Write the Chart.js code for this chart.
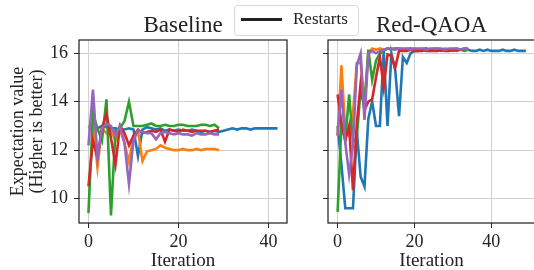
<!DOCTYPE html>
<html>
<head>
<meta charset="utf-8">
<script src="https://cdn.jsdelivr.net/npm/chart.js@4"></script>
<style>
  html, body { margin: 0; padding: 0; background: #fff; overflow: hidden; }
  body { width: 534px; height: 270px; position: relative; }
  #left { position: absolute; left: 0; top: 0; }
  #right { position: absolute; left: 300px; top: 0; }
  #legend {
    position: absolute; left: 234px; top: 5px; width: 125px; height: 31px;
    border: 1px solid #d9d9d9; border-radius: 4px; background: rgba(255,255,255,0.85);
    font-family: 'Liberation Serif', serif; font-size: 17px; color: #222; box-sizing: border-box;
  }
  #legend .swatch { position: absolute; left: 6px; top: 12px; width: 41px; height: 3px; background: #222; }
  #legend .label { position: absolute; left: 58px; top: 3px; line-height: 20px; }
</style>
</head>
<body>
<canvas id="left" width="300" height="270"></canvas>
<canvas id="right" width="245" height="270"></canvas>
<div id="legend"><div class="swatch"></div><div class="label">Restarts</div></div>
<script>
const titles = ['Baseline', 'Red-QAOA'];
const xTicks = [0, 20, 40];
const yTicks = [10, 12, 14, 16];
const colors = ['#1f77b4', '#ff7f0e', '#2ca02c', '#d62728', '#9467bd'];

// Baseline restarts
const baseBlue = [13.0, 12.95, 12.9, 13.0, 12.95, 12.9, 12.9, 12.85, 12.85, 12.9, 12.85, 11.75, 12.85, 12.95, 12.9, 12.85, 12.9, 12.8, 12.85, 12.8, 12.85, 12.8, 12.8, 12.85, 12.8, 12.75, 12.8, 12.75, 12.8, 12.75, 12.8, 12.85, 12.9, 12.85, 12.9, 12.9, 12.85, 12.9, 12.9, 12.9, 12.9, 12.9, 12.9];
const baseOrange = [12.9, 13.1, 11.3, 12.9, 12.7, 12.8, 12.4, 12.9, 12.3, 11.5, 12.6, 12.8, 11.55, 11.95, 12.0, 12.05, 12.2, 12.1, 12.05, 12.0, 12.0, 12.05, 12.0, 12.0, 12.05, 12.0, 12.05, 12.05, 12.05, 12.0];
const baseGreen = [9.4, 13.5, 12.9, 12.4, 14.1, 9.3, 12.8, 12.9, 13.2, 14.0, 13.0, 13.0, 13.0, 13.05, 13.1, 13.0, 13.0, 13.05, 13.0, 13.0, 13.05, 13.05, 13.0, 13.0, 13.0, 13.05, 13.05, 13.0, 13.05, 12.9];
const baseRed = [10.5, 12.4, 11.7, 12.9, 13.5, 12.5, 11.4, 13.0, 12.7, 12.2, 12.6, 12.85, 12.7, 12.75, 12.8, 12.75, 12.85, 12.35, 12.85, 12.8, 12.75, 12.85, 12.8, 12.75, 12.8, 12.8, 12.8, 12.75, 12.8, 12.85];
const basePurple = [12.2, 14.5, 11.7, 12.9, 13.1, 13.0, 12.6, 13.0, 12.3, 10.6, 12.4, 12.8, 12.75, 12.7, 12.7, 12.45, 12.7, 12.75, 12.7, 12.65, 12.7, 12.65, 12.65, 12.6, 12.7, 12.65, 12.65, 12.7, 12.65, 12.65];

// Red-QAOA restarts
const redBlue = [13.0, 11.4, 9.6, 9.6, 9.6, 12.8, 10.9, 10.5, 13.3, 14.0, 13.0, 13.0, 16.1, 13.0, 16.0, 15.3, 13.4, 15.85, 15.6, 16.0, 16.1, 16.1, 16.15, 16.1, 16.1, 16.15, 16.15, 16.1, 16.15, 16.15, 16.15, 16.1, 16.15, 16.15, 16.15, 16.1, 16.1, 16.15, 16.1, 16.15, 16.1, 16.1, 16.1, 16.15, 16.1, 16.1, 16.15, 16.1, 16.1, 16.1];
const redOrange = [12.6, 15.5, 12.8, 12.6, 13.5, 15.6, 15.6, 13.9, 16.0, 16.2, 16.15, 16.2, 16.15, 16.2, 16.2, 16.2, 16.2, 16.15, 16.2, 16.2, 16.2, 16.15, 16.2, 16.2, 16.15, 16.2, 16.2, 16.15, 16.2, 16.15, 16.15, 16.2, 16.15, 16.15, 16.15];
const redGreen = [9.45, 13.1, 12.4, 14.3, 12.3, 12.55, 14.5, 13.8, 16.15, 14.9, 15.7, 16.0, 16.1, 16.2, 16.15, 16.2, 16.2, 16.15, 16.15, 16.2, 16.15, 16.15, 16.15, 16.2, 16.15, 16.15, 16.1, 16.15, 16.15, 16.15, 16.1, 16.15, 16.15, 16.1, 16.15];
const redRed = [14.3, 13.1, 12.4, 13.0, 10.35, 13.1, 14.75, 13.65, 14.0, 14.1, 15.0, 15.85, 14.6, 15.95, 15.9, 15.4, 16.1, 16.1, 16.1, 16.15, 16.1, 16.1, 16.1, 16.15, 16.1, 16.1, 16.1, 16.15, 16.1, 16.1, 16.15, 16.15, 16.15, 16.2, 16.2];
const redPurple = [12.6, 14.5, 12.3, 11.0, 12.2, 15.5, 16.0, 13.25, 16.0, 16.1, 16.0, 16.1, 16.15, 16.2, 16.2, 16.15, 16.2, 16.2, 16.2, 16.15, 16.2, 16.2, 16.2, 16.15, 16.2, 16.2, 16.2, 16.2, 16.15, 16.2, 16.2, 16.2, 16.15, 16.2, 16.15];

const FONT = "'Liberation Serif', 'Times New Roman', serif";

function toPoints(values) {
    return values.map((v, i) => ({ x: i, y: v }));
}

function makeDatasets(seriesList) {
    return seriesList.map((values, idx) => ({
        data: toPoints(values),
        borderColor: colors[idx],
        borderWidth: 2.6,
        pointRadius: 0,
        tension: 0,
        order: seriesList.length - idx
    }));
}

// frame around the plot area + subplot title
const framePlugin = {
    id: 'frame',
    afterDraw(chart, args, opts) {
        const { ctx, chartArea: a } = chart;
        ctx.save();
        ctx.strokeStyle = '#262626';
        ctx.lineWidth = 1.25;
        ctx.strokeRect(a.left, a.top, a.right - a.left, a.bottom - a.top);
        ctx.fillStyle = '#222';
        ctx.font = '23px ' + FONT;
        ctx.textAlign = 'center';
        ctx.textBaseline = 'middle';
        ctx.fillText(opts.title, (a.left + a.right) / 2, 26);
        ctx.restore();
    }
};

function drawPanel(canvasId, seriesList, opt) {
    const ctx = document.getElementById(canvasId).getContext('2d');
    new Chart(ctx, {
        type: 'line',
        data: { datasets: makeDatasets(seriesList) },
        options: {
            responsive: false,
            animation: false,
            layout: { padding: { top: 40, right: opt.padRight, left: 0, bottom: 0 } },
            plugins: {
                legend: { display: false },
                tooltip: { enabled: false },
                frame: { title: opt.title }
            },
            scales: {
                x: {
                    type: 'linear',
                    min: opt.xMin,
                    max: opt.xMax,
                    afterBuildTicks: s => { s.ticks = xTicks.map(v => ({ value: v })); },
                    afterFit: s => { s.height = 47; },
                    grid: { color: '#d0d0d0', lineWidth: 1, tickColor: '#262626', tickLength: 5 },
                    border: { display: false },
                    ticks: { font: { family: FONT, size: 18 }, color: '#222', padding: 3, maxRotation: 0 },
                    title: { display: true, text: 'Iteration', font: { family: FONT, size: 19, lineHeight: 0.9 }, color: '#222', padding: { top: 0, bottom: 0 } }
                },
                y: {
                    min: 8.99,
                    max: 16.55,
                    afterBuildTicks: s => { s.ticks = yTicks.map(v => ({ value: v })); },
                    afterFit: s => { s.width = opt.yWidth; },
                    grid: { color: '#d0d0d0', lineWidth: 1, tickColor: '#262626', tickLength: 5 },
                    border: { display: false },
                    ticks: { display: opt.showY, font: { family: FONT, size: 18 }, color: '#222', padding: 6 },
                    title: {
                        display: opt.showY,
                        text: ['Expectation value', '(Higher is better)'],
                        font: { family: FONT, size: 18, lineHeight: 1.05 },
                        color: '#222',
                        padding: { top: 8.5, bottom: 0 }
                    }
                }
            }
        },
        plugins: [framePlugin]
    });
}

drawPanel('left', [baseBlue, baseOrange, baseGreen, baseRed, basePurple], {
    title: titles[0], xMin: -2.1, xMax: 44.1, yWidth: 79, padRight: 13, showY: true
});
drawPanel('right', [redBlue, redOrange, redGreen, redRed, redPurple], {
    title: titles[1], xMin: -2.5, xMax: 51.4, yWidth: 28, padRight: 10, showY: false
});
</script>
</body>
</html>
